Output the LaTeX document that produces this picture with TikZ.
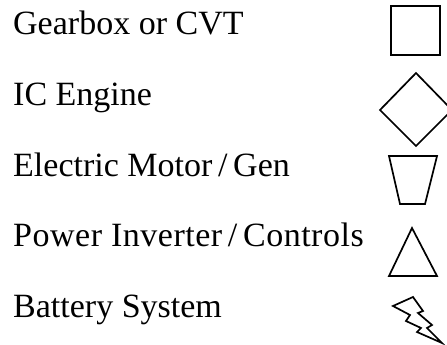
\documentclass[tikz,border=0pt]{standalone}
\usepackage{fontspec}
\setmainfont{Liberation Serif}
\tikzset{
  legendtext/.style={anchor=base west, inner sep=0pt, font=\fontsize{34}{38}\selectfont},
  legendshape/.style={draw, line width=1.7pt, line join=miter}
}
\begin{document}
\begin{tikzpicture}[x=1pt, y=1pt]
            \useasboundingbox (0,0) rectangle (447,-345);
            \clip (0,0) rectangle (447,-345);
            % Etiquetas
            \node[legendtext] (gearbox) at (13,-35) {Gearbox or CVT};
            \node[legendtext] (engine) at (13,-105) {IC Engine};
            \node[legendtext] (motor) at (13,-176) {Electric Motor\,/\,Gen};
            \node[legendtext] (inverter) at (13,-246) {\addfontfeature{LetterSpace=1.5}Power Inverter\,/\,Controls};
            \node[legendtext] (battery) at (13,-317) {Battery System};

            % Simbolos
            \draw[legendshape] (391,-6) rectangle (440,-55);
            \draw[legendshape] (416,-73) -- (380,-110) -- (416,-146) -- (452,-110) -- cycle;
            \draw[legendshape] (389,-156) -- (437,-156) -- (425,-204) -- (400,-204) -- cycle;
            \draw[legendshape] (412,-228) -- (437,-276) -- (389,-276) -- cycle;
            \draw[legendshape] (393,-306) -- (413,-297) -- (423,-311) -- (418,-313) -- (432,-325) -- (427,-328) -- (442,-343) -- (417,-332) -- (421,-328) -- (406,-321) -- (410,-315) -- cycle;
        \end{tikzpicture}
\end{document}
